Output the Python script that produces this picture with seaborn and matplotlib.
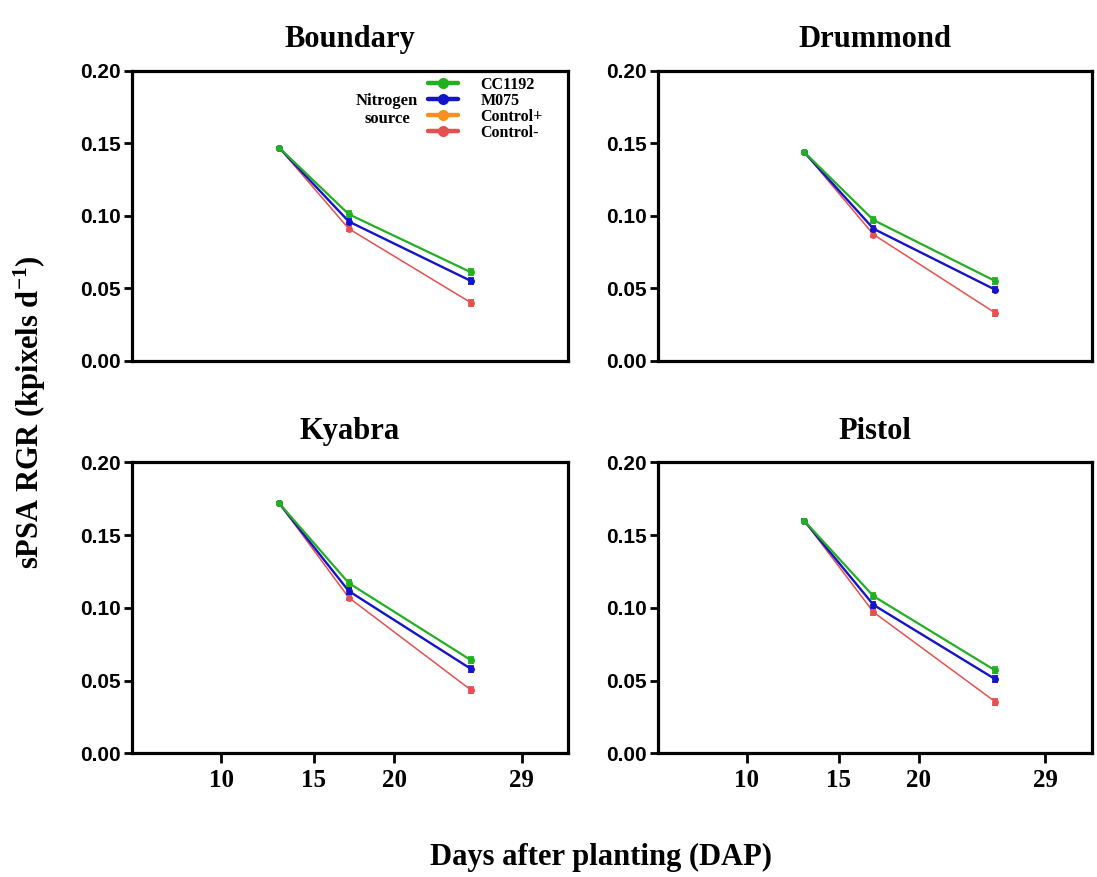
import matplotlib
matplotlib.use("Agg")
import matplotlib.pyplot as plt
from matplotlib.lines import Line2D
import seaborn as sns
import pandas as pd

# ---------------- data ----------------
panels = ["Boundary", "Drummond", "Kyabra", "Pistol"]
sources = ["CC1192", "M075", "Control+", "Control-"]
dap = [13, 17, 24]
xtick_labels = ["10", "15", "20", "29"]

cc1192 = {
    "Boundary": [0.147, 0.101, 0.061],
    "Drummond": [0.144, 0.097, 0.055],
    "Kyabra":   [0.172, 0.117, 0.064],
    "Pistol":   [0.160, 0.108, 0.057],
}
m075 = {
    "Boundary": [0.147, 0.096, 0.055],
    "Drummond": [0.144, 0.091, 0.049],
    "Kyabra":   [0.172, 0.1115, 0.058],
    "Pistol":   [0.160, 0.102, 0.051],
}
control_minus = {
    "Boundary": [0.147, 0.091, 0.040],
    "Drummond": [0.144, 0.087, 0.033],
    "Kyabra":   [0.172, 0.107, 0.0435],
    "Pistol":   [0.160, 0.097, 0.0355],
}
se_cc1192 = [0.0007, 0.0020, 0.0020]
se_m075 = [0.0007, 0.0018, 0.0018]
se_control_minus = [0.0007, 0.0018, 0.0020]

colors = {"CC1192": "#22B022", "M075": "#1414C8",
          "Control+": "#F7901E", "Control-": "#E65050"}

# ---------------- style ----------------
sns.set_theme(style="white")
plt.rcParams["font.family"] = ["Liberation Sans", "DejaVu Sans"]
plt.rcParams["text.color"] = "black"
plt.rcParams["axes.labelcolor"] = "black"
plt.rcParams["xtick.color"] = "black"
plt.rcParams["ytick.color"] = "black"
plt.rcParams["mathtext.fontset"] = "custom"
plt.rcParams["mathtext.rm"] = "Liberation Serif:bold"
plt.rcParams["mathtext.bf"] = "Liberation Serif:bold"
plt.rcParams["mathtext.it"] = "Liberation Serif:bold"

fig = plt.figure(figsize=(10.97, 8.77), dpi=100)
W, H = 1097, 877
boxes = {
    "Boundary": (132, 70.7, 436, 290),
    "Drummond": (657.7, 70.7, 434, 290),
    "Kyabra":   (132, 462.3, 436, 291),
    "Pistol":   (657.7, 462.3, 434, 291),
}

xlim = (4.58, 29.56)
tick_pos = [9.7, 15.0, 19.6, 26.9]

series = [  # draw order: red, blue, green on top
    ("Control-", control_minus, se_control_minus, 1.1),
    ("M075", m075, se_m075, 1.7),
    ("CC1192", cc1192, se_cc1192, 1.6),
]

for i, name in enumerate(panels):
    l, t, w, h = boxes[name]
    ax = fig.add_axes([l / W, 1 - (t + h) / H, w / W, h / H])
    for src, vals, se, lw in series:
        df = pd.DataFrame({"DAP": dap, "RGR": vals[name]})
        sns.lineplot(data=df, x="DAP", y="RGR", ax=ax, color=colors[src],
                     linewidth=lw, marker="o", markersize=5,
                     markeredgewidth=0, errorbar=None, legend=False)
        ax.errorbar(dap, vals[name], yerr=se, fmt="none", ecolor=colors[src],
                    elinewidth=1.3, capsize=2.5, capthick=1.3)
    ax.set_xlim(*xlim)
    ax.set_ylim(0, 0.2)
    ax.set_yticks([0.0, 0.05, 0.10, 0.15, 0.20])
    ax.set_yticklabels(["0.00", "0.05", "0.10", "0.15", "0.20"],
                       fontsize=15, fontweight="bold", family="Liberation Sans",
                       color="black")
    ax.tick_params(axis="y", direction="out", length=6, width=2, left=True,
                   pad=2, colors="black")
    if i >= 2:
        ax.set_xticks(tick_pos)
        ax.set_xticklabels(xtick_labels, fontsize=18, fontweight="bold",
                           family="Liberation Serif", color="black")
        ax.tick_params(axis="x", direction="out", length=7, width=2,
                       bottom=True, pad=4, colors="black")
    else:
        ax.set_xticks([])
    ax.set_xlabel("")
    ax.set_ylabel("")
    for sp in ax.spines.values():
        sp.set_linewidth(2.3)
        sp.set_color("black")
    ax.set_title(name, fontsize=22, fontweight="bold", family="Liberation Serif",
                 pad=17, color="black")

    if i == 0:
        handles = [Line2D([0], [0], color=colors[s], lw=3.2, marker="o",
                          markersize=8, markeredgewidth=0) for s in sources]
        fig.legend(handles, sources, loc="upper left",
                   bbox_to_anchor=(428 / W, 1 - 77 / H),
                   frameon=False, borderpad=0, borderaxespad=0,
                   handlelength=1.9, handletextpad=1.4,
                   labelspacing=0.0, labelcolor="black",
                   prop={"family": "Liberation Serif", "weight": "bold",
                         "size": 11.5})
        fig.text(387 / W, 1 - 110 / H, "Nitrogen\nsource", ha="center",
                 va="center", fontsize=12, fontweight="bold",
                 family="Liberation Serif", linespacing=1.15, color="black")

fig.text(30 / W, 1 - 412 / H, r"sPSA RGR (kpixels d$^{\mathbf{-1}}$)",
         rotation=90, ha="center", va="center", fontsize=22,
         fontweight="bold", family="Liberation Serif", color="black")
fig.text(601 / W, 1 - 857 / H, "Days after planting (DAP)", ha="center",
         va="center", fontsize=22, fontweight="bold", family="Liberation Serif",
         color="black")

fig.savefig("out.png", dpi=100, facecolor="white")
